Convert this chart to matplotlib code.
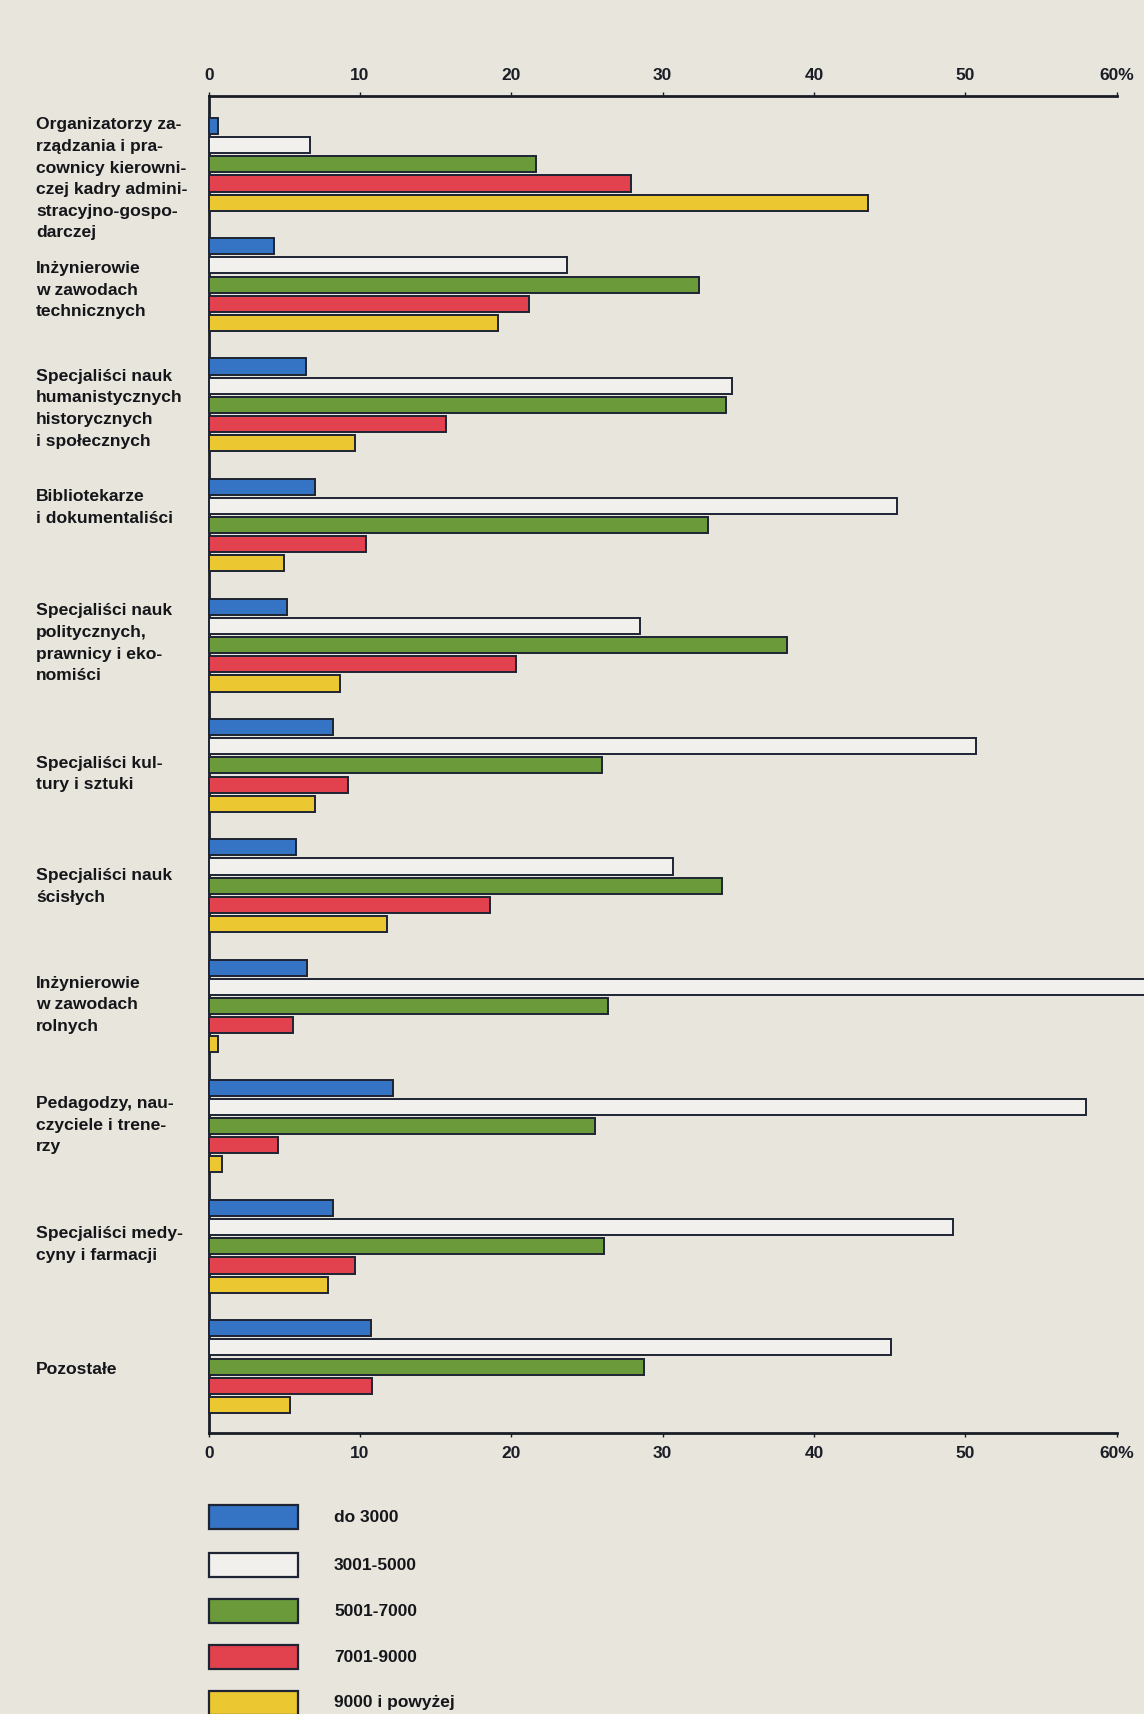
import matplotlib
matplotlib.use("Agg")
import matplotlib.pyplot as plt
from matplotlib.patches import Rectangle
import numpy as np

plt.rcParams['font.family'] = ['Liberation Sans', 'DejaVu Sans']

categories = [
    "Organizatorzy za-\nrządzania i pra-\ncownicy kierowni-\nczej kadry admini-\nstracyjno-gospo-\ndarczej",
    "Inżynierowie\nw zawodach\ntechnicznych",
    "Specjaliści nauk\nhumanistycznych\nhistorycznych\ni społecznych",
    "Bibliotekarze\ni dokumentaliści",
    "Specjaliści nauk\npolitycznych,\nprawnicy i eko-\nnomiści",
    "Specjaliści kul-\ntury i sztuki",
    "Specjaliści nauk\nścisłych",
    "Inżynierowie\nw zawodach\nrolnych",
    "Pedagodzy, nau-\nczyciele i trene-\nrzy",
    "Specjaliści medy-\ncyny i farmacji",
    "Pozostałe",
]

series_labels = ["do 3000", "3001-5000", "5001-7000", "7001-9000", "9000 i powyżej"]

do_3000   = [0.6, 4.3, 6.4, 7.0, 5.2, 8.2, 5.8, 6.5, 12.2, 8.2, 10.7]
s3001     = [6.7, 23.7, 34.6, 45.5, 28.5, 50.7, 30.7, 63.0, 58.0, 49.2, 45.1]
s5001     = [21.6, 32.4, 34.2, 33.0, 38.2, 26.0, 33.9, 26.4, 25.5, 26.1, 28.8]
s7001     = [27.9, 21.2, 15.7, 10.4, 20.3, 9.2, 18.6, 5.6, 4.6, 9.7, 10.8]
s9000     = [43.6, 19.1, 9.7, 5.0, 8.7, 7.0, 11.8, 0.6, 0.9, 7.9, 5.4]

xticks = [0, 10, 20, 30, 40, 50, 60]
xticklabels = ["0", "10", "20", "30", "40", "50", "60%"]

series = [do_3000, s3001, s5001, s7001, s9000]
colors = ["#3574c4", "#f2f0ec", "#6b9a3a", "#e2424e", "#ebc832"]
edge = "#1e2433"
bg = "#e8e5dd"

# vertical offsets of category labels relative to group centre (layout only)
label_offsets = [0.0, 0.3, 0.2, -0.9, -0.1, 0.45, 0.05, -0.05, -0.05, -0.1, 0.17]

W, H = 1144, 1714
fig = plt.figure(figsize=(W / 100, H / 100), dpi=100, facecolor=bg)
ax = fig.add_axes([208.7 / W, 1 - 1433 / H, (1116.6 - 208.7) / W, (1433 - 96) / H])
ax.set_facecolor(bg)

g = 6.28
bh = 0.84
for i in range(len(categories)):
    for j, (vals, c) in enumerate(zip(series, colors)):
        y = i * g + j
        ax.barh(y, vals[i], height=bh, color=c, edgecolor=edge, linewidth=1.4,
                clip_on=False, zorder=3)

ax.set_xlim(0, 60)
ax.set_ylim(10 * g + 4 + 1.47, -1.57)

ax.spines["right"].set_visible(False)
for s in ["top", "bottom", "left"]:
    ax.spines[s].set_linewidth(2.0)
    ax.spines[s].set_color("#1a1d26")

ax.set_xticks(xticks)
ax.set_xticklabels(xticklabels, fontsize=12.5, fontweight="bold")
ax.tick_params(axis="x", top=True, labeltop=True, bottom=True, labelbottom=True,
               length=3, width=1, direction="out", pad=6, colors="#1a1d26")
ax.set_yticks([])

lab_font = dict(fontsize=12.6, fontweight="bold", linespacing=1.55, color="#15161a")
for i, lab in enumerate(categories):
    if i == 0:
        ax.text(-0.19, i * g - 0.45, lab, transform=ax.get_yaxis_transform(),
                ha="left", va="top", **lab_font)
    else:
        ax.text(-0.19, i * g + 2 + label_offsets[i], lab,
                transform=ax.get_yaxis_transform(),
                ha="left", va="center", **lab_font)

# legend
lax = fig.add_axes([0, 0, 1, 1])
lax.set_xlim(0, W)
lax.set_ylim(H, 0)
lax.axis("off")
leg_y = [1517, 1565, 1611, 1657, 1703]
for yc, c, lab in zip(leg_y, colors, series_labels):
    lax.add_patch(Rectangle((209, yc - 12), 89, 24, facecolor=c, edgecolor=edge,
                            linewidth=1.6))
    lax.text(334, yc, lab, ha="left", va="center", fontsize=12.5,
             fontweight="bold", color="#15161a")

fig.savefig("out.png", dpi=100, facecolor=bg)
